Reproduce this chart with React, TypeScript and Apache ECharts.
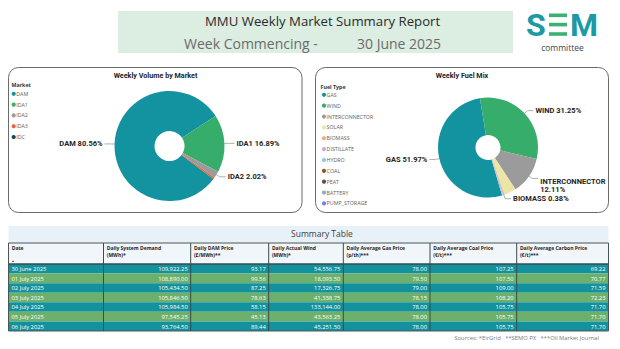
import React, { useEffect, useRef } from 'react';
import * as echarts from 'echarts';

// ---------- data ----------
const marketNames = ['DAM', 'IDA1', 'IDA2', 'IDA3', 'IDC'];
const marketShare = [80.56, 16.89, 2.02, 0.5, 0.03];
const marketLabelled = ['DAM', 'IDA1', 'IDA2'];

const fuelNames = ['GAS', 'WIND', 'INTERCONNECTOR', 'SOLAR', 'BIOMASS', 'DISTILLATE', 'HYDRO', 'COAL', 'PEAT', 'BATTERY', 'PUMP_STORAGE'];
const fuelShare = [51.97, 31.25, 12.11, 3.9, 0.38, 0.1, 0.25, 0, 0, 0.04, 0];
const fuelLabelled = ['GAS', 'WIND', 'INTERCONNECTOR', 'BIOMASS'];

const tableDates = ['30 June 2025', '01 July 2025', '02 July 2025', '03 July 2025', '04 July 2025', '05 July 2025', '06 July 2025'];
const systemDemand = [109922.25, 108890.0, 105434.5, 105846.5, 105984.5, 97545.25, 93764.5];
const damPrice = [93.17, 99.56, 87.25, 78.63, 58.15, 45.13, 89.44];
const actualWind = [54556.75, 18093.5, 17326.75, 41338.75, 133144.0, 43563.25, 45251.5];
const gasPrice = [78.0, 79.5, 79.0, 78.15, 78.0, 78.0, 78.0];
const coalPrice = [107.25, 107.5, 109.0, 108.2, 105.75, 105.75, 105.75];
const carbonPrice = [69.22, 70.77, 71.59, 72.23, 71.7, 71.7, 71.7];
const tableHeaders = [
  ['Date', ''],
  ['Daily System Demand', '(MWh)*'],
  ['Daily DAM Price', '(£/MWh)**'],
  ['Daily Actual Wind', '(MWh)*'],
  ['Daily Average Gas Price', '(p/th)***'],
  ['Daily Average Coal Price', '(€/t)***'],
  ['Daily Average Carbon Price', '(€/t)***'],
];

// ---------- styles ----------
const marketColors = ['#12939f', '#37ad6b', '#9b9b9b', '#e6643a', '#0d4b52'];
const fuelColors = ['#12939f', '#37ad6b', '#9b9b9b', '#ebe6a8', '#f2a88e', '#c9a9e2', '#8ec6f2', '#8c5a2e', '#555555', '#9aa8b8', '#7a7cf0'];
const FONT = '"Open Sans", "Noto Sans", sans-serif';
const LABEL_FONT = 'Roboto, "Open Sans", sans-serif';
const ROW_TEAL = '#13929e';
const ROW_GREEN = '#6db06c';

const fmt = (v: number) => v.toLocaleString('en-US', { minimumFractionDigits: 2, maximumFractionDigits: 2 });

function txt(x: number, y: number, text: string, size: number, color: string, opts: any = {}) {
  const align = opts.align || 'left';
  return {
    type: 'text',
    x,
    y,
    silent: true,
    z: 50,
    style: {
      text,
      fill: color,
      fontSize: size,
      fontFamily: opts.family || FONT,
      fontWeight: opts.weight || 'normal',
      align,
      verticalAlign: 'middle',
      textAlign: align,
      textVerticalAlign: 'middle',
    },
  };
}

function buildGraphics() {
  const els: any[] = [];
  // title box
  els.push({ type: 'rect', z: 1, shape: { x: 118, y: 11, width: 395, height: 42 }, style: { fill: '#dcede2' } });
  els.push(txt(205, 21, 'MMU Weekly Market Summary Report', 13.2, '#2b2b2b'));
  els.push(txt(184, 43, 'Week Commencing -', 14, '#6b6b6b'));
  els.push(txt(357, 43, '30 June 2025', 14, '#6b6b6b'));
  // logo
  els.push(txt(526, 25, 'S', 32, '#1b9aa5', { weight: 'bold', family: 'Roboto' }));
  els.push({ type: 'rect', z: 2, shape: { x: 549, y: 13.5, width: 18, height: 3.6 }, style: { fill: '#3bb273' } });
  els.push({ type: 'rect', z: 2, shape: { x: 549, y: 22.8, width: 18, height: 3.6 }, style: { fill: '#3bb273' } });
  els.push({ type: 'rect', z: 2, shape: { x: 549, y: 32.2, width: 18, height: 3.6 }, style: { fill: '#3bb273' } });
  els.push(txt(570, 25, 'M', 32, '#1b9aa5', { weight: 'bold', family: 'Roboto' }));
  els.push(txt(562.5, 47, 'committee', 8.5, '#444444', { align: 'center' }));

  // panels
  els.push({ type: 'rect', z: 0, shape: { x: 8.5, y: 67.5, width: 293.5, height: 145, r: 10 }, style: { fill: '#ffffff', stroke: '#6a6a6a', lineWidth: 1 } });
  els.push({ type: 'rect', z: 0, shape: { x: 315.5, y: 67.5, width: 293, height: 145, r: 10 }, style: { fill: '#ffffff', stroke: '#6a6a6a', lineWidth: 1 } });
  els.push(txt(155.5, 75.5, 'Weekly Volume by Market', 7.2, '#252423', { weight: 'bold', family: LABEL_FONT, align: 'center' }));
  els.push(txt(462, 75.5, 'Weekly Fuel Mix', 7.2, '#252423', { weight: 'bold', family: LABEL_FONT, align: 'center' }));

  // legends
  els.push(txt(11.5, 85, 'Market', 5.3, '#333333', { weight: 'bold' }));
  marketNames.forEach((n, i) => {
    const y = 93.8 + i * 10.8;
    els.push({ type: 'circle', z: 50, shape: { cx: 13.7, cy: y, r: 2.1 }, style: { fill: marketColors[i] } });
    els.push(txt(16.2, y, n, 5.3, '#605e5c'));
  });
  els.push(txt(320.5, 86.7, 'Fuel Type', 5.3, '#333333', { weight: 'bold' }));
  fuelNames.forEach((n, i) => {
    const y = 94.8 + i * 10.86;
    els.push({ type: 'circle', z: 50, shape: { cx: 324, cy: y, r: 2.1 }, style: { fill: fuelColors[i] } });
    els.push(txt(326.6, y, n, 5.3, '#605e5c'));
  });

  // summary table
  const colEdges = [8.5, 103.5, 190.7, 268.7, 343.3, 430, 516.7, 608.5];
  const bandTop = 226;
  const headTop = 243;
  const headBottom = 264;
  const rowH = 9.57;
  const tableBottom = headBottom + rowH * tableDates.length;
  els.push({ type: 'rect', z: 1, shape: { x: colEdges[0], y: bandTop, width: colEdges[7] - colEdges[0], height: headTop - bandTop }, style: { fill: '#e9f1f8' } });
  els.push(txt(322, 233.5, 'Summary Table', 8.5, '#404040', { align: 'center' }));
  els.push({ type: 'rect', z: 1, shape: { x: colEdges[0], y: headTop, width: colEdges[7] - colEdges[0], height: headBottom - headTop }, style: { fill: '#f1f6fb' } });
  tableHeaders.forEach((h, c) => {
    els.push(txt(colEdges[c] + 3.2, 247.8, h[0], 5, '#252423', { weight: 'bold' }));
    if (h[1]) els.push(txt(colEdges[c] + 3.2, 254.9, h[1], 5, '#252423', { weight: 'bold' }));
  });
  els.push(txt(11.5, 261, '▲', 3, '#252423'));

  const columns = [systemDemand, damPrice, actualWind, gasPrice, coalPrice, carbonPrice];
  tableDates.forEach((d, r) => {
    const y0 = headBottom + r * rowH;
    els.push({ type: 'rect', z: 1, shape: { x: colEdges[0], y: y0, width: colEdges[7] - colEdges[0], height: rowH }, style: { fill: r % 2 === 0 ? ROW_TEAL : ROW_GREEN } });
    const cy = y0 + rowH / 2 + 0.3;
    els.push(txt(colEdges[0] + 3, cy, d, 5.8, '#ffffff'));
    columns.forEach((col, c) => {
      els.push(txt(colEdges[c + 2] - 3, cy, fmt(col[r]), 5.8, '#ffffff', { align: 'right' }));
    });
  });
  // grid lines
  for (let c = 1; c < colEdges.length - 1; c++) {
    els.push({ type: 'line', z: 5, shape: { x1: colEdges[c], y1: headTop, x2: colEdges[c], y2: tableBottom }, style: { stroke: '#3a4a4e', lineWidth: 1 } });
  }
  els.push({ type: 'line', z: 5, shape: { x1: colEdges[0], y1: headBottom, x2: colEdges[7], y2: headBottom }, style: { stroke: '#3a4a4e', lineWidth: 1.5 } });
  els.push({ type: 'rect', z: 5, shape: { x: colEdges[0], y: headTop, width: colEdges[7] - colEdges[0], height: tableBottom - headTop }, style: { fill: 'none', stroke: '#4a5558', lineWidth: 1 } });

  els.push(txt(599, 337.7, 'Sources: *EirGrid   **SEMO PX   ***Oil Market Journal', 5.8, '#7a7a7a', { align: 'right' }));
  return els;
}

const pieLabel = {
  fontSize: 7.5,
  fontWeight: 'bold',
  fontFamily: LABEL_FONT,
  color: '#252423',
  lineHeight: 8.5,
  formatter: (p: any) => (p.name === 'INTERCONNECTOR' ? `${p.name}\n${p.value.toFixed(2)}%` : `${p.name} ${p.value.toFixed(2)}%`),
};
const pieLabelLine = { length: 4, length2: 6, lineStyle: { color: '#b0b0b0', width: 1 } };

export default function App() {
  const ref = useRef<HTMLDivElement>(null);
  useEffect(() => {
    if (!ref.current) return;
    const chart = echarts.init(ref.current, null, { renderer: 'svg' });
    chart.setOption({
      animation: false,
      backgroundColor: '#ffffff',
      graphic: { elements: buildGraphics() },
      series: [
        {
          type: 'pie',
          silent: true,
          z: 10,
          center: [169.5, 146],
          radius: [15, 55],
          startAngle: 323,
          clockwise: true,
          avoidLabelOverlap: true,
          label: { ...pieLabel, distanceToLabelLine: 2 },
          labelLine: pieLabelLine,
          itemStyle: { borderWidth: 0 },
          data: marketNames.map((n, i) => ({
            name: n,
            value: marketShare[i],
            itemStyle: { color: marketColors[i] },
            label: { show: marketLabelled.includes(n) },
            labelLine: { show: marketLabelled.includes(n) },
          })),
        },
        {
          type: 'pie',
          silent: true,
          z: 10,
          center: [488, 147.5],
          radius: [12.5, 50],
          startAngle: 286.4,
          clockwise: true,
          avoidLabelOverlap: true,
          label: { ...pieLabel, distanceToLabelLine: 2 },
          labelLine: pieLabelLine,
          labelLayout: (params: any) => (params.dataIndex === 2 ? { dy: 7 } : {}),
          itemStyle: { borderWidth: 0 },
          data: fuelNames.map((n, i) => ({
            name: n,
            value: fuelShare[i],
            itemStyle: { color: fuelColors[i] },
            label: { show: fuelLabelled.includes(n) },
            labelLine: { show: fuelLabelled.includes(n) },
          })),
        },
      ],
    });
    return () => chart.dispose();
  }, []);
  return <div ref={ref} style={{ position: 'fixed', left: 0, top: 0, width: 620, height: 349, background: '#fff' }} />;
}
